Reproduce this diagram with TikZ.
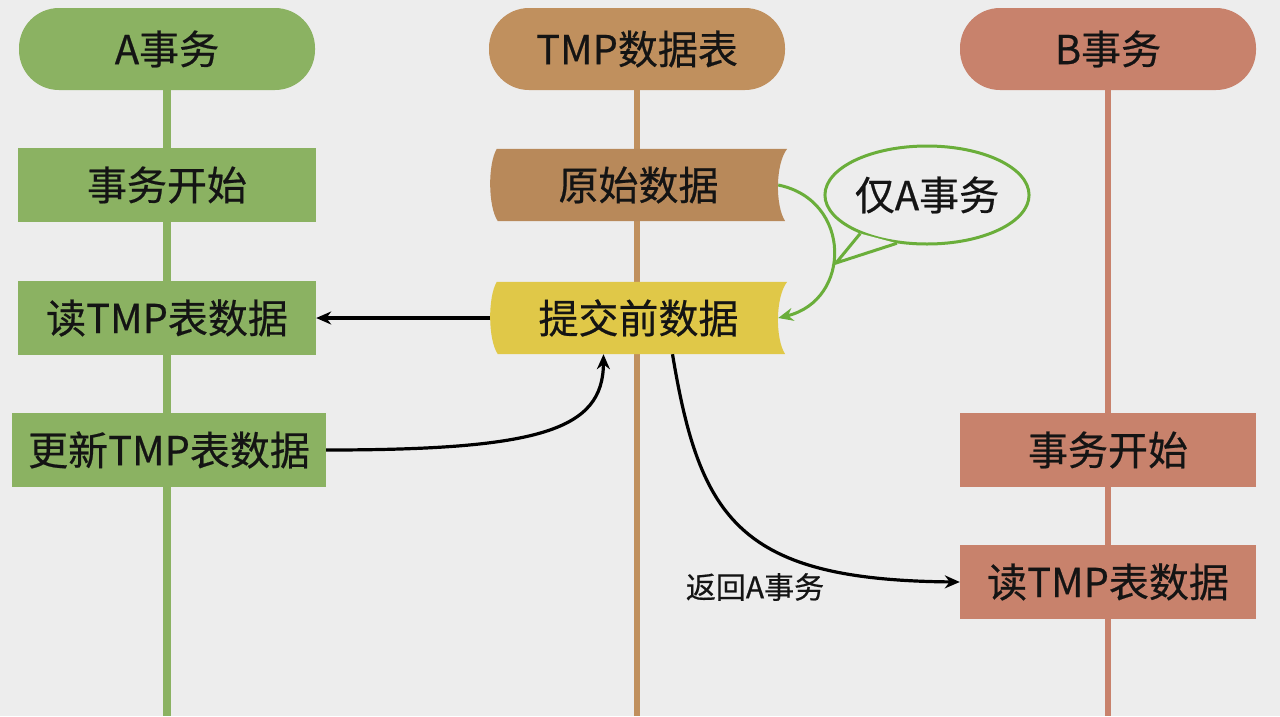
\documentclass[tikz,border=0pt]{standalone}
\usepackage{fontspec}
\setmainfont{Noto Sans CJK SC}[FakeBold=0.5]
\usetikzlibrary{arrows.meta,shapes.geometric}
\pgfdeclarelayer{bg}
\pgfdeclarelayer{back}
\pgfsetlayers{back,bg,main}
\definecolor{bgc}{HTML}{EDEDED}
\definecolor{agreen}{HTML}{8BB262}
\definecolor{tmpc}{HTML}{C0905E}
\definecolor{tmpbox}{HTML}{B8895A}
\definecolor{bsal}{HTML}{C8826C}
\definecolor{yel}{HTML}{E0C848}
\definecolor{bubg}{HTML}{6AAE3A}
\tikzset{
  big/.style={font=\fontsize{40}{44}\selectfont, text=black!92},
  pill/.style={big, rounded corners=40pt, minimum width=296pt, minimum height=82pt, inner sep=0pt},
  abox/.style={big, fill=agreen, minimum height=74pt, inner sep=0pt},
  bbox/.style={big, fill=bsal, minimum width=296pt, minimum height=74pt, inner sep=0pt},
  tape/.style={big, minimum width=297pt, minimum height=72pt, inner sep=0pt},
  conn/.style={line width=3.2pt, black, -{Stealth[length=15pt,width=13pt]}},
}
\newcommand{\tapefill}[2]{%
  \fill[#2] ([xshift=7pt]#1.north west) -- (#1.north east)
     .. controls ([xshift=-12pt,yshift=-15pt]#1.north east) and ([xshift=-12pt,yshift=15pt]#1.south east) .. ([xshift=-2pt]#1.south east)
     -- ([xshift=8pt]#1.south west)
     .. controls ([xshift=-2pt,yshift=15pt]#1.south west) and ([xshift=-2pt,yshift=-15pt]#1.north west) .. cycle;}
\begin{document}
\begin{tikzpicture}[x=1pt,y=-1pt]
\begin{pgfonlayer}{back}
\fill[bgc] (0,0) rectangle (1280,716);
\end{pgfonlayer}
\useasboundingbox (0,0) rectangle (1280,716);

% headers
\node[pill, fill=agreen] (ah) at (167,49) {A事务};
\node[pill, fill=tmpc] (th) at (637,49) {TMP数据表};
\node[pill, fill=bsal] (bh) at (1108,49) {B事务};

% lifeline ends
\coordinate (aend) at (167,716);
\coordinate (tend) at (637,716);
\coordinate (bend) at (1108,716);

% A boxes
\node[abox, minimum width=298pt] (a1) at (167,185) {事务开始};
\node[abox, minimum width=298pt] (a2) at (167,318) {读TMP表数据};
\node[abox, minimum width=314pt] (a3) at (169,450) {更新TMP表数据};

% B boxes
\node[bbox] (b1) at (1108,450) {事务开始};
\node[bbox] (b2) at (1108,582) {读TMP表数据};

% tape boxes
\node[tape] (orig) at (638.5,185) {原始数据};
\node[tape] (pre) at (638.5,318) {提交前数据};

\begin{pgfonlayer}{bg}
  \draw[agreen, line width=7.5pt] (ah.south) -- (aend);
  \draw[tmpc, line width=6.5pt] (th.south) -- (tend);
  \draw[bsal, line width=6.5pt] (bh.south) -- (bend);
  \tapefill{orig}{tmpbox}
  \tapefill{pre}{yel}
\end{pgfonlayer}

% speech bubble
\node[ellipse, draw=bubg, line width=3pt, fill=bgc, minimum width=200pt, minimum height=98pt, inner sep=0pt, big] (bub) at (927,195) {仅A事务};
\coordinate (tip) at (836,263);
\fill[bgc] (bub.210) -- (tip) -- (bub.238) -- cycle;
\draw[bubg, line width=3pt, line join=miter] (bub.210) -- (tip) -- (bub.238);

% green arrow
\draw[bubg, line width=3pt, -{Stealth[length=15pt,width=13pt]}]
  ([xshift=-9pt]orig.east) .. controls (852,200) and (852,300) .. ([xshift=-9pt]pre.east);

% black arrows
\draw[conn] (pre.west) -- (a2.east);
\draw[conn] (a3.east) .. controls (540,450) and (603,430) .. ([xshift=-35pt]pre.south);
\coordinate (ps) at ([xshift=34pt]pre.south);
\draw[conn] (ps) .. controls (700,520) and (740,580) .. (b2.west);
\node[font=\fontsize{30}{34}\selectfont, text=black!92, inner sep=0pt] (ret) at (755,587) {返回A事务};
\end{tikzpicture}
\end{document}
